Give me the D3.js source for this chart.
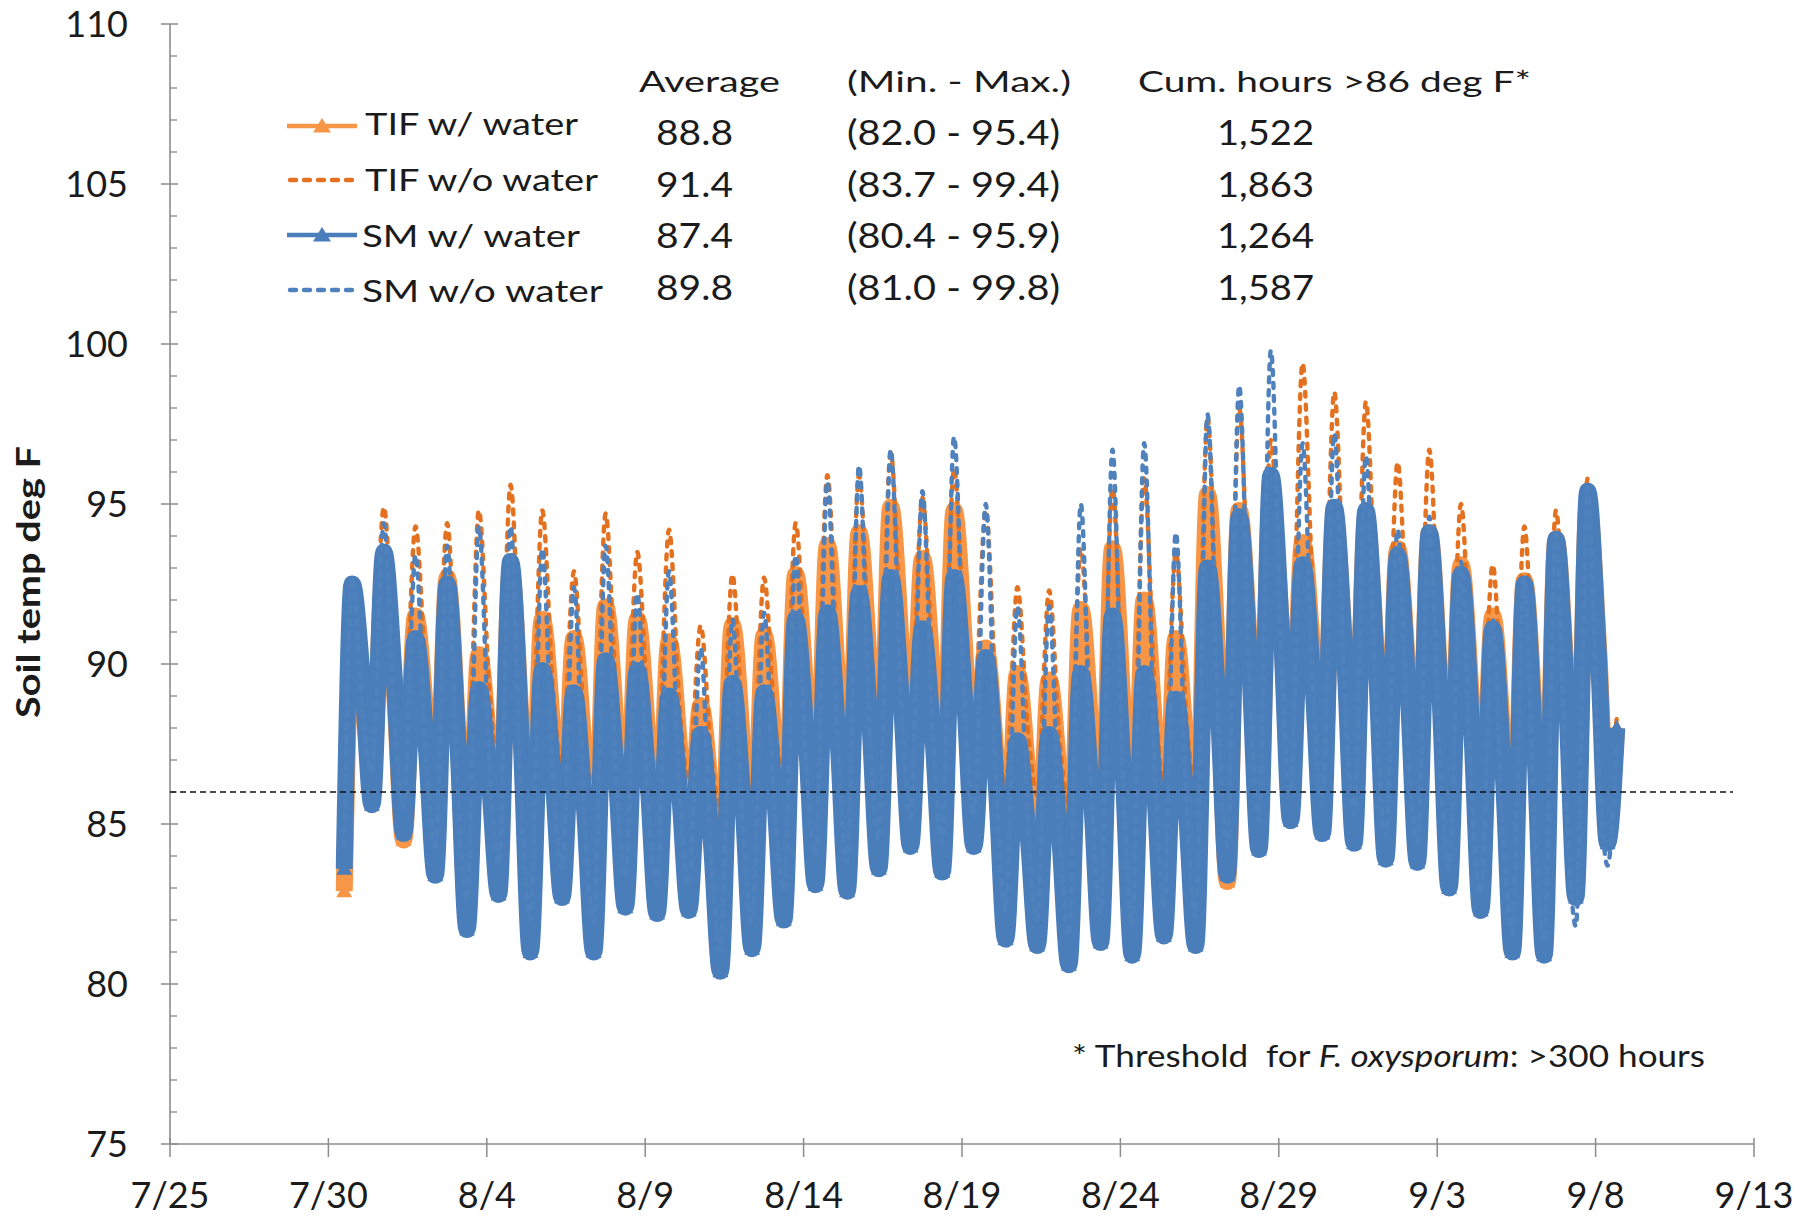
<!DOCTYPE html>
<html>
<head>
<meta charset="utf-8">
<script src="https://cdn.jsdelivr.net/npm/d3@7"></script>
<style>
  body { margin: 0; background: #fff; }
  svg { display: block; }
  text { font-family: Lato, "Open Sans", sans-serif; fill: #1b1b1b; }
</style>
</head>
<body>
<svg id="chart" width="1812" height="1218"></svg>
<script>
// ---- readings: one low (morning), one high (evening) per day, plus a night reading ----
const days = ['7/30','7/31','8/1','8/2','8/3','8/4','8/5','8/6','8/7','8/8','8/9','8/10','8/11','8/12','8/13','8/14','8/15','8/16','8/17','8/18','8/19','8/20','8/21','8/22','8/23','8/24','8/25','8/26','8/27','8/28','8/29','8/30','8/31','9/1','9/2','9/3','9/4','9/5','9/6','9/7','9/8'];
const year = 2014;
const firstReadingHour = 12, nightHour = 2, lowHour = 9, highHour = 18, lastReadingHour = 16;

// TIF w/ water
const tifWetLow   = [82.9,86.3,84.5,84.4,82.0,83.6,82.4,83.6,82.5,83.4,83.2,83.3,82.3,82.6,83.2,84.1,83.9,84.5,85.1,84.6,85.2,82.8,82.6,82.3,82.7,82.4,82.9,82.6,83.2,85.0,85.8,85.5,85.2,84.9,84.7,84.1,83.5,82.6,82.5,83.8,85.3];
const tifWetHigh  = [91.0,93.0,91.5,92.7,90.3,93.0,91.4,90.8,91.8,91.4,90.7,88.7,91.2,90.9,92.8,93.7,94.1,94.9,93.3,94.8,90.5,89.7,89.5,91.7,93.6,92.0,90.8,95.3,94.8,95.4,93.8,94.6,94.6,93.6,94.1,93.1,91.5,92.6,93.9,95.2,88.0];
const tifWetNight = [88.9,89.2,88.3,87.9,87.3,88.2,87.9,87.1,88.0,87.7,87.4,85.8,87.3,87.4,88.9,89.3,89.8,90.5,89.4,90.5,87.0,86.5,86.3,87.7,88.6,87.9,87.1,89.9,90.4,91.1,90.1,90.4,90.2,89.6,89.6,88.8,87.5,88.1,89.4,90.7];

// TIF w/o water
const tifDryLow   = [83.7,88.8,87.6,87.5,85.6,86.8,85.9,86.9,85.9,86.7,86.5,86.4,85.5,85.8,86.4,87.3,87.2,87.7,88.3,87.8,88.4,86.2,85.9,85.6,86.0,85.8,86.3,86.0,86.7,88.3,89.0,88.8,88.5,88.1,87.9,87.3,86.7,85.9,85.8,87.0,86.6];
const tifDryHigh  = [91.8,94.9,94.3,94.4,94.8,95.6,94.8,92.9,94.7,93.5,94.2,91.2,92.8,92.7,94.4,95.9,95.9,96.6,95.2,96.1,94.8,92.4,92.3,93.6,95.5,95.8,93.5,97.7,98.0,97.0,99.4,98.5,98.2,96.3,96.7,95.0,93.1,94.3,94.8,95.8,88.3];
const tifDryNight = [89.7,89.8,89.5,88.2,89.2,88.8,89.3,88.0,89.1,88.6,88.7,87.2,87.9,88.3,89.4,89.8,90.2,90.8,90.0,90.7,88.8,87.9,87.6,88.3,88.7,89.2,88.3,90.0,91.2,91.4,92.0,91.5,91.1,90.4,90.1,89.2,88.1,88.4,89.3,89.4];

// SM w/ water
const smWetLow    = [83.6,85.6,84.7,83.4,81.7,82.8,81.0,82.7,81.0,82.4,82.2,82.3,80.4,81.1,82.0,83.1,82.9,83.6,84.3,83.5,84.3,81.4,81.2,80.6,81.3,80.9,81.5,81.2,83.4,84.2,85.1,84.7,84.4,83.9,83.8,83.0,82.3,81.0,80.9,82.7,84.4];
const smWetHigh   = [92.5,93.5,90.8,92.5,89.2,93.2,89.8,89.1,90.1,89.8,89.0,87.8,89.4,89.1,91.4,91.6,92.2,92.7,91.1,92.7,90.2,87.6,87.8,89.7,91.5,89.7,88.9,93.0,94.6,95.9,93.1,94.9,94.8,93.4,94.1,92.8,91.1,92.5,93.9,95.4,88.0];
const smWetNight  = [89.4,89.5,87.5,87.6,86.3,87.7,86.6,85.5,86.6,86.4,86.0,84.5,85.7,85.9,87.7,87.7,88.3,88.9,87.7,88.9,86.2,84.7,84.6,85.9,86.7,86.0,85.4,88.7,89.9,91.0,89.3,90.2,89.9,89.1,89.1,88.1,86.6,87.3,88.9,90.4];

// SM w/o water
const smDryLow    = [84.3,86.6,85.5,84.3,82.6,83.7,82.0,83.6,81.9,83.3,83.1,83.1,81.0,81.9,82.9,84.0,83.8,84.5,85.2,84.4,85.2,82.3,82.0,81.5,82.2,81.8,82.4,82.1,84.3,85.1,86.0,85.6,85.3,84.6,84.4,83.6,82.8,81.6,81.3,81.8,83.7];
const smDryHigh   = [92.7,94.4,93.4,93.7,94.3,94.3,93.6,92.4,93.7,92.2,92.9,90.5,91.4,91.6,93.4,95.7,96.2,96.7,95.4,97.1,95.0,91.8,91.8,95.0,96.7,96.9,94.1,97.8,98.7,99.8,96.9,97.2,96.5,94.2,94.6,93.2,91.4,92.7,94.1,95.5,87.5];
const smDryNight  = [88.4,88.2,87.0,85.9,86.9,85.7,86.6,85.1,86.4,85.8,86.0,83.9,84.8,85.5,86.8,87.4,88.0,88.7,87.7,88.8,86.1,84.9,84.6,86.0,86.3,86.8,85.7,88.4,89.2,90.1,89.0,88.9,88.2,87.3,86.9,85.9,84.5,84.7,85.5,87.2];

// ---- summary table ----
const seriesNames = ['TIF w/ water','TIF w/o water','SM w/ water','SM w/o water'];
const averages    = ['88.8','91.4','87.4','89.8'];
const ranges      = ['(82.0 - 95.4)','(83.7 - 99.4)','(80.4 - 95.9)','(81.0 - 99.8)'];
const cumHours    = ['1,522','1,863','1,264','1,587'];
const tableHeaders = ['Average','(Min. - Max.)','Cum. hours >86 deg F*'];

// ---- axes ----
const xTickLabels = ['7/25','7/30','8/4','8/9','8/14','8/19','8/24','8/29','9/3','9/8','9/13'];
const yTickValues = [75,80,85,90,95,100,105,110];
const yMinorValues = d3.range(75, 111, 1);
const thresholdF = 86;

// ------------------------------------------------------------
const parseDay = d3.timeParse('%m/%d/%Y');
const toDate = (s, h) => { const d = parseDay(`${s}/${year}`); d.setHours(h); return d; };

function buildSeries(low, high, night) {
  const pts = [];
  days.forEach((day, i) => {
    if (i > 0) pts.push({ t: toDate(day, nightHour), v: night[i - 1] });
    pts.push({ t: toDate(day, i === 0 ? firstReadingHour : lowHour), v: low[i] });
    pts.push({ t: toDate(day, i === days.length - 1 ? lastReadingHour : highHour), v: high[i] });
  });
  return pts;
}

const colors = { tifWet: '#F79646', tifDry: '#E3711F', smWet: '#4A7EBB', smDry: '#4F81BD' };

const series = [
  { name: seriesNames[0], pts: buildSeries(tifWetLow, tifWetHigh, tifWetNight), color: colors.tifWet, dashed: false },
  { name: seriesNames[1], pts: buildSeries(tifDryLow, tifDryHigh, tifDryNight), color: colors.tifDry, dashed: true },
  { name: seriesNames[2], pts: buildSeries(smWetLow, smWetHigh, smWetNight), color: colors.smWet, dashed: false },
  { name: seriesNames[3], pts: buildSeries(smDryLow, smDryHigh, smDryNight), color: colors.smDry, dashed: true }
];

const svg = d3.select('#chart');
const plot = { left: 170, right: 1754, top: 24, bottom: 1144 };

const x = d3.scaleTime()
  .domain([toDate(xTickLabels[0], 0), toDate(xTickLabels[xTickLabels.length - 1], 0)])
  .range([plot.left, plot.right]);
const y = d3.scaleLinear().domain([75, 110]).range([plot.bottom, plot.top]);

const axisColor = '#8c8c8c';

// y axis
const gy = svg.append('g');
gy.append('line').attr('x1', plot.left).attr('x2', plot.left)
  .attr('y1', y(110)).attr('y2', y(75)).attr('stroke', axisColor).attr('stroke-width', 1.6);
gy.selectAll('line.minor').data(yMinorValues.filter(v => v % 5 !== 0)).join('line')
  .attr('class', 'minor')
  .attr('x1', plot.left).attr('x2', plot.left + 7)
  .attr('y1', d => y(d)).attr('y2', d => y(d))
  .attr('stroke', axisColor).attr('stroke-width', 1.3);
gy.selectAll('line.major').data(yTickValues).join('line')
  .attr('class', 'major')
  .attr('x1', plot.left - 9).attr('x2', plot.left + 8)
  .attr('y1', d => y(d)).attr('y2', d => y(d))
  .attr('stroke', axisColor).attr('stroke-width', 1.5);
gy.selectAll('text').data(yTickValues).join('text')
  .attr('x', 128).attr('y', d => y(d)).attr('dy', '0.36em')
  .attr('text-anchor', 'end').attr('font-size', 36)
  .text(d => d);

// x axis
const xTicks = xTickLabels.map(s => toDate(s, 0));
const gx = svg.append('g');
gx.append('line').attr('x1', plot.left).attr('x2', plot.right)
  .attr('y1', plot.bottom).attr('y2', plot.bottom).attr('stroke', axisColor).attr('stroke-width', 1.6);
gx.selectAll('line.tick').data(xTicks).join('line')
  .attr('class', 'tick')
  .attr('x1', d => x(d)).attr('x2', d => x(d))
  .attr('y1', plot.bottom - 6).attr('y2', plot.bottom + 13)
  .attr('stroke', axisColor).attr('stroke-width', 1.5);
gx.selectAll('text').data(xTickLabels).join('text')
  .attr('x', (d, i) => x(xTicks[i])).attr('y', 1208)
  .attr('text-anchor', 'middle').attr('font-size', 36)
  .text(d => d);

// y axis title
svg.append('text')
  .attr('transform', 'translate(40,582) rotate(-90)')
  .attr('text-anchor', 'middle').attr('font-size', 33).attr('font-weight', 700)
  .attr('textLength', 272).attr('lengthAdjust', 'spacingAndGlyphs')
  .text('Soil temp deg F');

// ---- series ----
const line = d3.line().x(d => x(d.t)).y(d => y(d.v)).curve(d3.curveMonotoneX);
const triPath = 'M0,-8L8,6L-8,6Z';
const gSeries = svg.append('g');

series.forEach(s => {
  const g = gSeries.append('g');
  if (s.dashed) {
    g.append('path').datum(s.pts).attr('d', line)
      .attr('fill', 'none').attr('stroke', s.color).attr('stroke-width', 4.4)
      .attr('stroke-linecap', 'round').attr('stroke-linejoin', 'round')
      .attr('stroke-dasharray', '5,8');
  } else {
    // dense hourly markers read as a broad band along the trace
    g.append('path').datum(s.pts).attr('d', line)
      .attr('fill', 'none').attr('stroke', s.color).attr('stroke-width', 17)
      .attr('stroke-linejoin', 'round').attr('stroke-linecap', 'butt');
    g.selectAll('path.m').data(s.pts).join('path').attr('class', 'm')
      .attr('d', triPath)
      .attr('transform', d => `translate(${x(d.t)},${y(d.v)})`)
      .attr('fill', s.color);
  }
});

// threshold line
svg.append('line')
  .attr('x1', plot.left).attr('x2', 1733)
  .attr('y1', y(thresholdF)).attr('y2', y(thresholdF))
  .attr('stroke', '#111').attr('stroke-width', 1.5).attr('stroke-dasharray', '6,4');

// ---- legend & table ----
const gl = svg.append('g');
const headerX = [639, 847, 1138], headerW = [141, 224, 393];
gl.selectAll('text.hdr').data(tableHeaders).join('text').attr('class', 'hdr')
  .attr('x', (d, i) => headerX[i]).attr('y', 92).attr('font-size', 29)
  .attr('textLength', (d, i) => headerW[i]).attr('lengthAdjust', 'spacingAndGlyphs')
  .text(d => d);

const labelBase = [135, 191, 247, 302];
const lineY = [126, 180, 235, 290];
const labelX = [365, 365, 362, 362];
const labelW = [213, 233, 218, 241];
series.forEach((s, i) => {
  const ln = gl.append('line').attr('x1', 287).attr('x2', 357)
    .attr('y1', lineY[i]).attr('y2', lineY[i])
    .attr('stroke', s.color).attr('stroke-width', 4.4);
  if (s.dashed) ln.attr('stroke-dasharray', '6,8').attr('stroke-linecap', 'round').attr('x1', 290);
  else gl.append('path').attr('d', 'M0,-8L9,6.5L-9,6.5Z')
    .attr('transform', `translate(322,${lineY[i]})`).attr('fill', s.color);
  gl.append('text').attr('x', labelX[i]).attr('y', labelBase[i]).attr('font-size', 31)
    .attr('textLength', labelW[i]).attr('lengthAdjust', 'spacingAndGlyphs')
    .text(s.name);
});

const valueBase = [145, 197, 248, 300];
gl.selectAll('text.avg').data(averages).join('text').attr('class', 'avg')
  .attr('x', 656).attr('y', (d, i) => valueBase[i]).attr('font-size', 35)
  .attr('textLength', 77).attr('lengthAdjust', 'spacingAndGlyphs').text(d => d);
gl.selectAll('text.rng').data(ranges).join('text').attr('class', 'rng')
  .attr('x', 847).attr('y', (d, i) => valueBase[i]).attr('font-size', 35)
  .attr('textLength', 213).attr('lengthAdjust', 'spacingAndGlyphs').text(d => d);
gl.selectAll('text.cum').data(cumHours).join('text').attr('class', 'cum')
  .attr('x', 1217).attr('y', (d, i) => valueBase[i]).attr('font-size', 35)
  .attr('textLength', 97).attr('lengthAdjust', 'spacingAndGlyphs').text(d => d);

// footnote
const foot = svg.append('text').attr('x', 1072).attr('y', 1067).attr('font-size', 30)
  .attr('textLength', 633).attr('lengthAdjust', 'spacingAndGlyphs')
  .style('white-space', 'pre');
foot.append('tspan').text('* Threshold  for ');
foot.append('tspan').attr('font-style', 'italic').text('F. oxysporum');
foot.append('tspan').text(': >300 hours');
</script>
</body>
</html>
